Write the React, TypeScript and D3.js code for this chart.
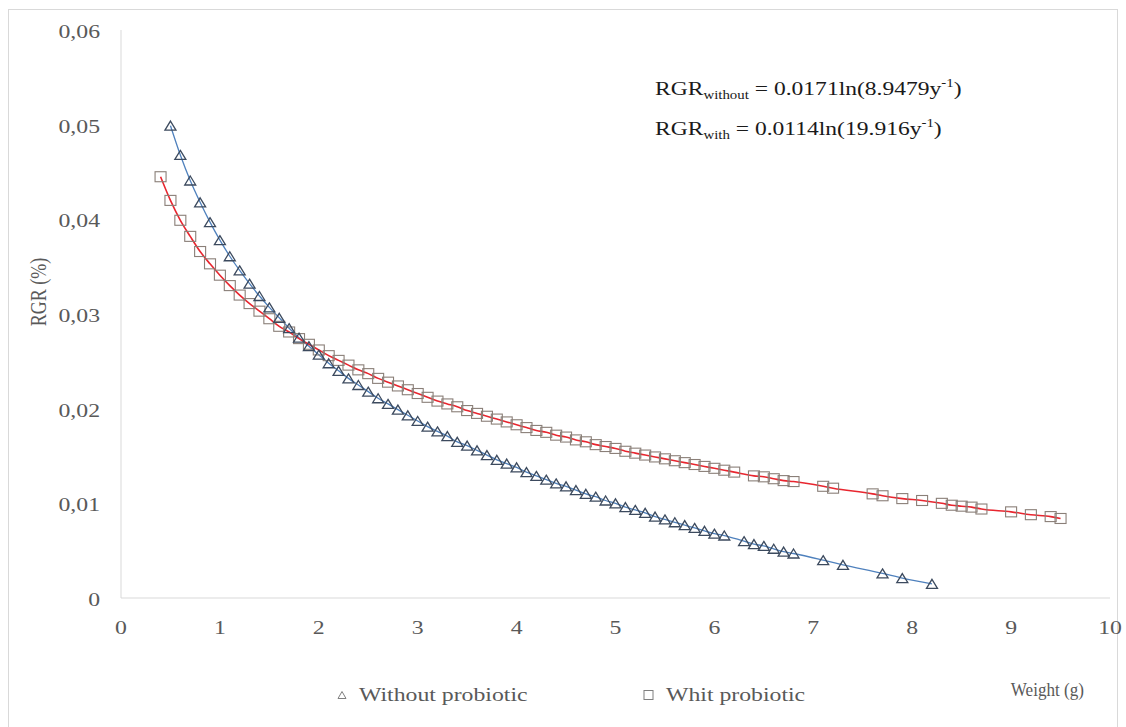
import React from "react";
import * as d3 from "d3";

// Without probiotic (triangles)
const withoutX = [
  0.5, 0.6, 0.7, 0.8, 0.9, 1.0, 1.1, 1.2, 1.3, 1.4, 1.5, 1.6, 1.7, 1.8, 1.9, 2.0,
  2.1, 2.2, 2.3, 2.4, 2.5, 2.6, 2.7, 2.8, 2.9, 3.0, 3.1, 3.2, 3.3, 3.4, 3.5, 3.6,
  3.7, 3.8, 3.9, 4.0, 4.1, 4.2, 4.3, 4.4, 4.5, 4.6, 4.7, 4.8, 4.9, 5.0, 5.1, 5.2,
  5.3, 5.4, 5.5, 5.6, 5.7, 5.8, 5.9, 6.0, 6.1, 6.3, 6.4, 6.5, 6.6, 6.7, 6.8, 7.1,
  7.3, 7.7, 7.9, 8.2,
];
const withoutY = [
  0.0499, 0.0468, 0.0441, 0.0418, 0.0397, 0.0378, 0.0361, 0.0346, 0.0332, 0.0319,
  0.0307, 0.0296, 0.0285, 0.0275, 0.0266, 0.0257, 0.0248, 0.024, 0.0232, 0.0225,
  0.0218, 0.0211, 0.0205, 0.0199, 0.0193, 0.0187, 0.0181, 0.0176, 0.0171, 0.0165,
  0.0161, 0.0156, 0.0151, 0.0146, 0.0142, 0.0138, 0.0133, 0.0129, 0.0125, 0.0121,
  0.0118, 0.0114, 0.011, 0.0107, 0.0103, 0.01, 0.0096, 0.0093, 0.009, 0.0086,
  0.0083, 0.008, 0.0077, 0.0074, 0.0071, 0.0068, 0.0066, 0.006, 0.0057, 0.0055,
  0.0052, 0.0049, 0.0047, 0.004, 0.0035, 0.0026, 0.0021, 0.0015,
];

// Whit probiotic (squares)
const withX = [
  0.4, 0.5, 0.6, 0.7, 0.8, 0.9, 1.0, 1.1, 1.2, 1.3, 1.4, 1.5, 1.6, 1.7, 1.8, 1.9,
  2.0, 2.1, 2.2, 2.3, 2.4, 2.5, 2.6, 2.7, 2.8, 2.9, 3.0, 3.1, 3.2, 3.3, 3.4, 3.5,
  3.6, 3.7, 3.8, 3.9, 4.0, 4.1, 4.2, 4.3, 4.4, 4.5, 4.6, 4.7, 4.8, 4.9, 5.0, 5.1,
  5.2, 5.3, 5.4, 5.5, 5.6, 5.7, 5.8, 5.9, 6.0, 6.1, 6.2, 6.4, 6.5, 6.6, 6.7, 6.8,
  7.1, 7.2, 7.6, 7.7, 7.9, 8.1, 8.3, 8.4, 8.5, 8.6, 8.7, 9.0, 9.2, 9.4, 9.5,
];
const withY = [
  0.0445, 0.042, 0.0399, 0.0382, 0.0366, 0.0353, 0.0341, 0.033, 0.032, 0.0311,
  0.0303, 0.0295, 0.0287, 0.0281, 0.0274, 0.0268, 0.0262, 0.0256, 0.0251, 0.0246,
  0.0241, 0.0237, 0.0232, 0.0228, 0.0224, 0.022, 0.0216, 0.0212, 0.0208, 0.0205,
  0.0202, 0.0198, 0.0195, 0.0192, 0.0189, 0.0186, 0.0183, 0.018, 0.0177, 0.0175,
  0.0172, 0.017, 0.0167, 0.0165, 0.0162, 0.016, 0.0158, 0.0155, 0.0153, 0.0151,
  0.0149, 0.0147, 0.0145, 0.0143, 0.0141, 0.0139, 0.0137, 0.0135, 0.0133, 0.0129,
  0.0128, 0.0126, 0.0124, 0.0123, 0.0118, 0.0116, 0.011, 0.0108, 0.0105, 0.0103,
  0.01, 0.0098, 0.0097, 0.0096, 0.0094, 0.0091, 0.0088, 0.0086, 0.0084,
];

const xTicks = [0, 1, 2, 3, 4, 5, 6, 7, 8, 9, 10];
const yTicks = [0, 0.01, 0.02, 0.03, 0.04, 0.05, 0.06];
const yTickLabels = ["0", "0,01", "0,02", "0,03", "0,04", "0,05", "0,06"];

const legendLabels = ["Without probiotic", "Whit probiotic"];
const xTitle = "Weight (g)";
const yTitle = "RGR (%)";

const FONT = "'Liberation Serif', 'Times New Roman', serif";
const SX = 1.25;

function T(props: any) {
  const { x, y, anchor, fill, size, children, sx } = props;
  return (
    <text
      transform={`translate(${x},${y}) scale(${sx ?? SX},1)`}
      textAnchor={anchor || "start"}
      fill={fill || "#595959"}
      fontSize={size || 19}
      fontFamily={FONT}
    >
      {children}
    </text>
  );
}

export default function App() {
  const x = d3.scaleLinear().domain([0, 10]).range([121, 1110]);
  const y = d3.scaleLinear().domain([0, 0.06]).range([598, 30]);

  const withoutPts = withoutX.map((v, i) => [v, withoutY[i]] as [number, number]);
  const withPts = withX.map((v, i) => [v, withY[i]] as [number, number]);

  const line = d3
    .line<[number, number]>()
    .x((d) => x(d[0]))
    .y((d) => y(d[1]))
    .curve(d3.curveMonotoneX);

  const triPath = (cx: number, cy: number, w: number, h: number) =>
    `M${cx},${cy - h / 2}L${cx + w / 2},${cy + h / 2}L${cx - w / 2},${cy + h / 2}Z`;

  return (
    <svg
      width={1126}
      height={727}
      style={{ position: "absolute", left: 0, top: 0, background: "#fff" }}
    >
      <rect x={0} y={0} width={1126} height={727} fill="#fff" />
      <rect x={8.5} y={9.5} width={1109} height={740} fill="none" stroke="#d9d9d9" strokeWidth={1} />

      {/* axes lines */}
      <line x1={x(0)} x2={x(0)} y1={y(0.06)} y2={y(0)} stroke="#d9d9d9" strokeWidth={1} />
      <line x1={x(0)} x2={x(10)} y1={y(0)} y2={y(0)} stroke="#d9d9d9" strokeWidth={1} />

      {/* y tick labels */}
      {yTicks.map((t, i) => (
        <T key={"y" + i} x={100} y={y(t) + 8} anchor="end">
          {yTickLabels[i]}
        </T>
      ))}
      {/* x tick labels */}
      {xTicks.map((t) => (
        <T key={"x" + t} x={x(t)} y={634} anchor="middle">
          {String(t)}
        </T>
      ))}

      {/* y title */}
      <text
        transform={`translate(46,292) rotate(-90) scale(1,${SX})`}
        textAnchor="middle"
        fill="#595959"
        fontSize={18}
        fontFamily={FONT}
      >
        {yTitle}
      </text>

      {/* lines */}
      <path d={line(withoutPts) || ""} fill="none" stroke="#4f81bd" strokeWidth={1.3} />
      <path d={line(withPts) || ""} fill="none" stroke="#e8262f" strokeWidth={1.6} />

      {/* markers */}
      {withPts.map((d, i) => (
        <rect
          key={"s" + i}
          x={x(d[0]) - 5.5}
          y={y(d[1]) - 5}
          width={11}
          height={10}
          fill="none"
          stroke="#8a7f78"
          strokeWidth={1.1}
        />
      ))}
      {withoutPts.map((d, i) => (
        <path
          key={"t" + i}
          d={triPath(x(d[0]), y(d[1]), 11, 9)}
          fill="none"
          stroke="#3c4a5e"
          strokeWidth={1.3}
        />
      ))}

      {/* equations */}
      <text
        transform={`translate(655,95) scale(1.24,1)`}
        fill="#1a1a1a"
        fontSize={19}
        fontFamily={FONT}
      >
        <tspan>RGR</tspan>
        <tspan fontSize={12} dy={4}>without</tspan>
        <tspan fontSize={19} dy={-4}> = 0.0171ln(8.9479y</tspan>
        <tspan fontSize={12} dy={-8}>-1</tspan>
        <tspan fontSize={19} dy={8}>)</tspan>
      </text>
      <text
        transform={`translate(655,135) scale(1.24,1)`}
        fill="#1a1a1a"
        fontSize={19}
        fontFamily={FONT}
      >
        <tspan>RGR</tspan>
        <tspan fontSize={12} dy={4}>with</tspan>
        <tspan fontSize={19} dy={-4}> = 0.0114ln(19.916y</tspan>
        <tspan fontSize={12} dy={-8}>-1</tspan>
        <tspan fontSize={19} dy={8}>)</tspan>
      </text>

      {/* legend */}
      <path d={triPath(342, 695, 8, 7)} fill="none" stroke="#7f7f7f" strokeWidth={1} />
      <T x={359} y={701}>{legendLabels[0]}</T>
      <rect x={644} y={690.5} width={9} height={9} fill="none" stroke="#7f7f7f" strokeWidth={1} />
      <T x={666} y={701}>{legendLabels[1]}</T>

      {/* x title */}
      <T x={1084} y={696} anchor="end" size={18} sx={0.95}>{xTitle}</T>
    </svg>
  );
}
